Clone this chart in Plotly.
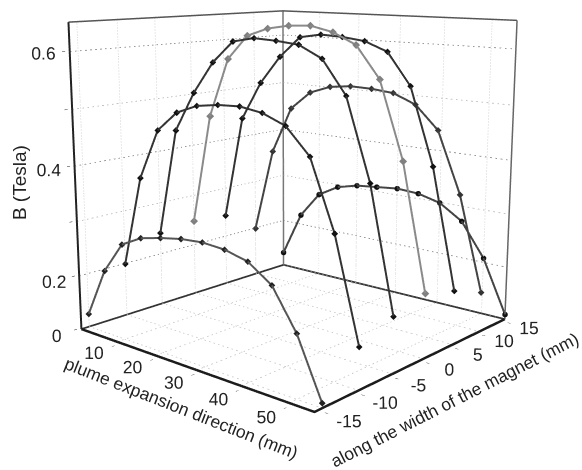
import plotly.graph_objects as go

# arches along the plume direction, one per position across the magnet
plume_mm = [0, 5, 10, 15, 20, 25, 30, 35, 40, 45, 50, 55]
width_mm = [-15, -10, -5, 0, 5, 10, 15]
b_tesla = [
    [.124, .215, .272, .292, .301, .308, .311, .308, .298, .270, .205, .108],
    [.199, .369, .461, .497, .513, .519, .521, .515, .499, .456, .342, .171],
    [.241, .445, .519, .577, .616, .624, .622, .618, .598, .542, .407, .197],
    [.248, .462, .574, .619, .634, .641, .643, .634, .615, .561, .430, .214],
    [.243, .448, .522, .575, .614, .621, .619, .614, .598, .542, .408, .197],
    [.199, .370, .463, .499, .514, .519, .518, .514, .497, .455, .344, .173],
    [.128, .220, .272, .295, .305, .309, .313, .310, .299, .271, .208, .109],
]
line_colors = ["#555555", "#333333", "#333333", "#8a8a8a", "#333333", "#444444", "#444444"]
marker_colors = ["#222222", "#111111", "#111111", "#808080", "#111111", "#333333", "#111111"]
symbols = ["diamond", "diamond", "diamond", "diamond", "diamond", "diamond", "circle"]
marker_sizes = [2.2, 2.2, 2.2, 2.6, 2.2, 2.2, 3.2]

x_lim = [0, 55]
y_lim = [-16, 15]
z_lim = [0.1, 0.65]
x_ticks = [10, 20, 30, 40, 50]
y_ticks = [-15, -10, -5, 0, 5, 10, 15]
z_ticks = [0.1, 0.2, 0.3, 0.4, 0.5, 0.6]
z_labels = ["0", "0.2", " ", "0.4", " ", "0.6"]

fig = go.Figure()


def add_line(xs, ys, zs, color, width, dash="solid"):
    fig.add_trace(go.Scatter3d(x=xs, y=ys, z=zs, mode="lines", hoverinfo="skip",
                               line=dict(color=color, width=width, dash=dash)))


# dashed grid on the floor and the two back walls
for t in x_ticks:
    add_line([t, t], y_lim, [z_lim[0]] * 2, "#c4c4c4", 1.5, "dash")
    add_line([t, t], [y_lim[1]] * 2, z_lim, "#c4c4c4", 1.5, "dot")
for t in y_ticks:
    add_line(x_lim, [t, t], [z_lim[0]] * 2, "#c4c4c4", 1.5, "dash")
    add_line([x_lim[0]] * 2, [t, t], z_lim, "#c4c4c4", 1.5, "dot")
for t in z_ticks[1:]:
    shade = "#777777" if t in (0.2, 0.4, 0.6) else "#b0b0b0"
    add_line(x_lim, [y_lim[1]] * 2, [t, t], shade, 1.5, "dash")
    add_line([x_lim[0]] * 2, y_lim, [t, t], shade, 1.5, "dash")

# frame
add_line([x_lim[0], x_lim[1], x_lim[1]], [y_lim[0], y_lim[0], y_lim[1]], [z_lim[0]] * 3, "#1c1c1c", 5)
add_line([x_lim[0], x_lim[0], x_lim[1]], [y_lim[0], y_lim[1], y_lim[1]], [z_lim[0]] * 3, "#333333", 3.5)
add_line([x_lim[0], x_lim[0]], [y_lim[0], y_lim[0]], z_lim, "#222222", 4)
add_line([x_lim[0], x_lim[0]], [y_lim[1], y_lim[1]], z_lim, "#777777", 3)
add_line([x_lim[1], x_lim[1]], [y_lim[1], y_lim[1]], z_lim, "#666666", 3)
add_line([x_lim[0], x_lim[0], x_lim[1]], [y_lim[0], y_lim[1], y_lim[1]], [z_lim[1]] * 3, "#555555", 3)

for i, w in enumerate(width_mm):
    fig.add_trace(go.Scatter3d(
        x=plume_mm, y=[w] * len(plume_mm), z=b_tesla[i], mode="lines+markers",
        line=dict(color=line_colors[i], width=4),
        marker=dict(color=marker_colors[i], size=marker_sizes[i], symbol=symbols[i]),
    ))


def axis(rng, vals, text):
    # small pad so the frame lines sitting on the limits are not clipped
    pad = (rng[1] - rng[0]) * 0.01
    return dict(range=[rng[0] - pad, rng[1] + pad], tickmode="array", tickvals=vals, ticktext=text,
                title="", showgrid=False, showbackground=False, showline=False, zeroline=False,
                showspikes=False, ticks="outside", ticklen=3, tickcolor="#222222", tickangle=0,
                tickfont=dict(family="Liberation Sans", size=14.5, color="#222222"))


label_font = dict(family="Liberation Sans", size=17.5, color="#222222")

fig.update_layout(
    width=592, height=882, showlegend=False, paper_bgcolor="white",
    margin=dict(l=0, r=0, t=0, b=0),
    scene=dict(
        domain=dict(x=[0, 1], y=[0, 1]),
        aspectmode="manual", aspectratio=dict(x=1, y=1, z=1.0),
        camera=dict(eye=dict(x=2.173, y=-2.501, z=0.673), up=dict(x=0, y=0, z=1),
                    center=dict(x=0, y=0, z=0)),
        xaxis=axis(x_lim, x_ticks, [str(t) for t in x_ticks]),
        yaxis=axis(y_lim, y_ticks, [str(t) for t in y_ticks]),
        zaxis=axis(z_lim, z_ticks, z_labels),
        annotations=[
            dict(x=27, y=y_lim[0], z=z_lim[0], text="plume expansion direction (mm)", textangle=21.4,
                 showarrow=False, xshift=-3, yshift=-42, font=label_font),
            dict(x=x_lim[1], y=0, z=z_lim[0], text="along the width of the magnet (mm)", textangle=-27,
                 showarrow=False, xshift=31, yshift=-41, font=label_font),
            dict(x=x_lim[0], y=y_lim[0], z=0.37, text="B (Tesla)", textangle=-90,
                 showarrow=False, xshift=-55, font=dict(family="Liberation Sans", size=19, color="#222222")),
        ],
    ),
)

# the scene needs a tall canvas for this lens, so slide it up inside the window
fig.write_html("out.html", post_script=(
    "document.body.style.overflow='hidden';document.body.style.margin='0';"
    "document.getElementById('{plot_id}').style.marginTop='-264px';"))
